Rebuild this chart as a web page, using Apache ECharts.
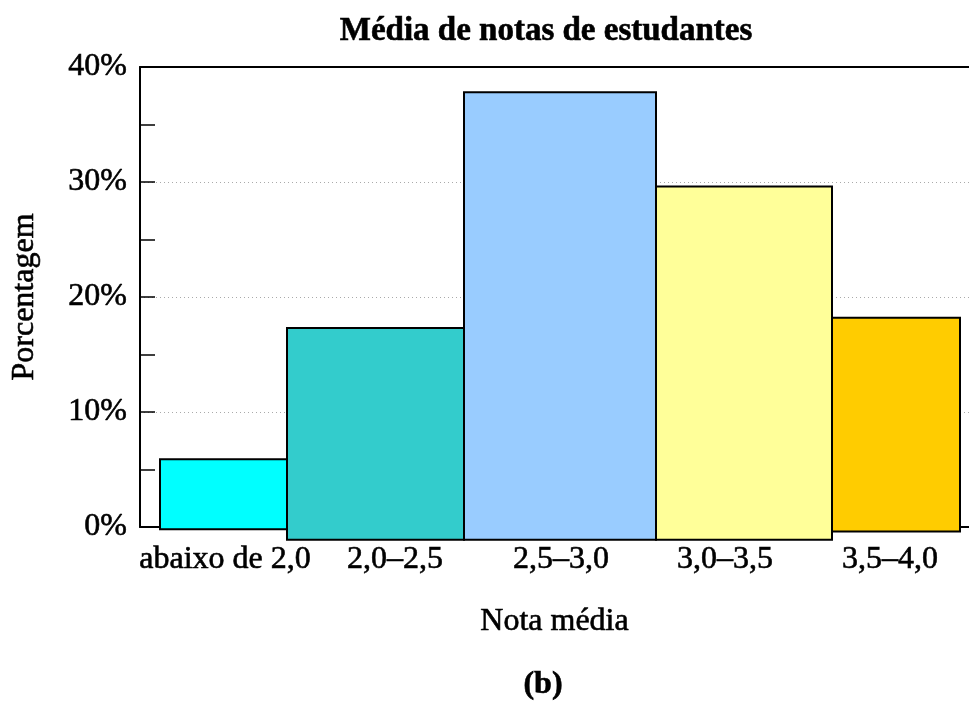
<!DOCTYPE html>
<html>
<head>
<meta charset="utf-8">
<script src="https://cdn.jsdelivr.net/npm/echarts@6/dist/echarts.min.js"></script>
<style>
  html, body { margin: 0; padding: 0; background: #fff; }
  #chart { width: 969px; height: 702px; }
</style>
</head>
<body>
<div id="chart"></div>
<script>
// ---- data ----
const categories = ['abaixo de 2,0', '2,0\u20132,5', '2,5\u20133,0', '3,0\u20133,5', '3,5\u20134,0'];
const percentages = [5.9, 17.3, 37.8, 29.6, 18.2];          // bar tops (%)
const barBases = [-0.2, -1.1, -1.1, -1.1, -0.4];             // bar bottoms (%)
const binStart = [20, 147, 324, 516, 692];                   // bin left edges (x units)
const binEnd = [147, 324, 516, 692, 820];                    // bin right edges (x units)
const labelPositions = [85, 255, 421, 585, 750];             // category label positions (x units)
const barColors = ['#00FFFF', '#33CCCC', '#99CCFF', '#FFFF99', '#FFCC00'];
const yTicks = [0, 10, 20, 30, 40];

const FONT = '"Liberation Serif", "Times New Roman", serif';
const HEAVY = { textBorderColor: '#000', textBorderWidth: 0.6 };

const seriesData = categories.map((c, i) => ({
  name: c,
  value: [binStart[i], binEnd[i], barBases[i], percentages[i]],
  itemStyle: { color: barColors[i] }
}));

const chart = echarts.init(document.getElementById('chart'), null, { renderer: 'canvas' });

chart.setOption({
  backgroundColor: '#ffffff',
  animation: false,
  title: {
    text: 'Média de notas de estudantes',
    left: 541,
    top: 10,
    textAlign: 'center',
    textStyle: Object.assign({ fontFamily: FONT, fontSize: 33, fontWeight: 'bold', color: '#000' }, HEAVY)
  },
  grid: { left: 140, right: 0, top: 67, bottom: 175 },
  xAxis: [
    {
      type: 'value',
      min: 0,
      max: 829,
      position: 'bottom',
      name: 'Nota média',
      nameLocation: 'middle',
      nameGap: 79,
      nameTextStyle: Object.assign({ fontFamily: FONT, fontSize: 32, color: '#000' }, HEAVY),
      axisLine: { show: true, onZero: false, lineStyle: { color: '#000', width: 2 } },
      axisTick: { show: false },
      splitLine: { show: false },
      axisLabel: Object.assign({
        customValues: labelPositions,
        formatter: (v) => {
          const i = labelPositions.indexOf(v);
          return i >= 0 ? categories[i] : '';
        },
        margin: 17,
        fontFamily: FONT,
        fontSize: 32,
        color: '#000'
      }, HEAVY)
    },
    {
      type: 'value',
      min: 0,
      max: 829,
      position: 'top',
      axisLine: { show: true, onZero: false, lineStyle: { color: '#000', width: 2 } },
      axisTick: { show: false },
      axisLabel: { show: false },
      splitLine: { show: false }
    }
  ],
  yAxis: {
    type: 'value',
    min: 0,
    max: 40,
    interval: 10,
    name: 'Porcentagem',
    nameLocation: 'middle',
    nameGap: 99,
    nameRotate: 90,
    nameTextStyle: Object.assign({ fontFamily: FONT, fontSize: 32, color: '#000' }, HEAVY),
    axisLine: { show: true, onZero: false, lineStyle: { color: '#000', width: 2 } },
    axisTick: { show: true, inside: true, length: 15, lineStyle: { color: '#000', width: 1.5 } },
    minorTick: { show: true, splitNumber: 2, length: 15, lineStyle: { color: '#000', width: 1.5 } },
    splitLine: { show: true, lineStyle: { color: '#aaaaaa', type: [1, 3], width: 1 } },
    axisLabel: Object.assign({
      formatter: (v) => yTicks.includes(v) ? v + '%' : '',
      margin: 13,
      fontFamily: FONT,
      fontSize: 32,
      color: '#000'
    }, HEAVY)
  },
  graphic: [
    {
      type: 'text',
      x: 543,
      y: 685,
      style: {
        text: '(b)',
        font: 'bold 32px ' + FONT,
        fill: '#000',
        stroke: '#000',
        lineWidth: 0.6,
        textAlign: 'center',
        textVerticalAlign: 'middle'
      }
    }
  ],
  series: [
    {
      type: 'custom',
      clip: false,
      encode: { x: [0, 1], y: [2, 3] },
      data: seriesData,
      renderItem: (params, api) => {
        const p0 = api.coord([api.value(0), api.value(3)]);
        const p1 = api.coord([api.value(1), api.value(2)]);
        return {
          type: 'rect',
          shape: { x: p0[0], y: p0[1], width: p1[0] - p0[0], height: p1[1] - p0[1] },
          style: { fill: api.visual('color'), stroke: '#000', lineWidth: 2 }
        };
      }
    }
  ]
});
</script>
</body>
</html>
